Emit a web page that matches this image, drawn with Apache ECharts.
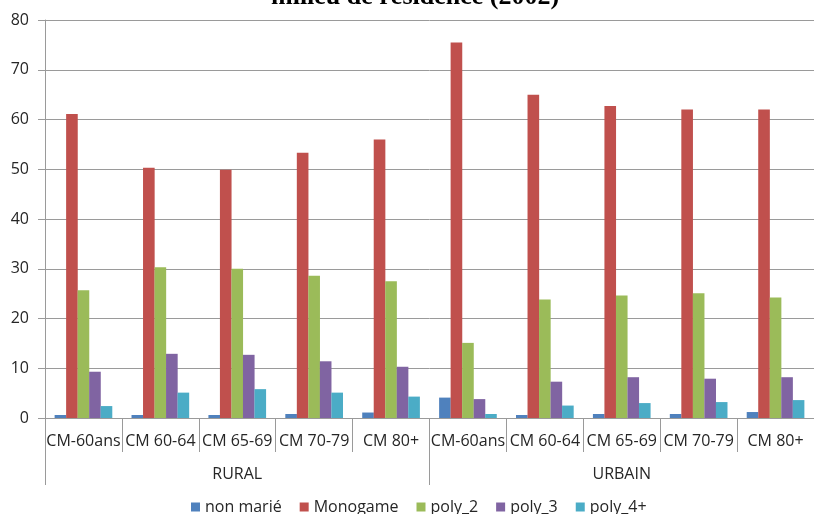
<!DOCTYPE html>
<html>
<head>
<meta charset="utf-8">
<script src="https://cdn.jsdelivr.net/npm/echarts@6/dist/echarts.min.js"></script>
<style>
  html, body { margin: 0; padding: 0; background: #fff; }
  #container { width: 814px; height: 514px; }
</style>
</head>
<body>
<div id="container"></div>
<script>
// categories (two levels)
let ageGroups = ["CM-60ans", "CM 60-64", "CM 65-69", "CM 70-79", "CM 80+",
                 "CM-60ans", "CM 60-64", "CM 65-69", "CM 70-79", "CM 80+"];
let milieux = ["RURAL", "URBAIN"];
let seriesNames = ["non marié", "Monogame", "poly_2", "poly_3", "poly_4+"];
let colors = ["#4F81BD", "#C0504D", "#9BBB59", "#8064A2", "#4BACC6"];

// values (%)
let nonMarie = [0.6, 0.6, 0.6, 0.8, 1.1, 4.1, 0.6, 0.8, 0.8, 1.2];
let monogame = [61.1, 50.3, 49.9, 53.3, 56.0, 75.5, 65.0, 62.7, 62.0, 62.0];
let poly2 = [25.7, 30.3, 30.0, 28.6, 27.5, 15.1, 23.8, 24.6, 25.1, 24.2];
let poly3 = [9.3, 12.9, 12.7, 11.4, 10.3, 3.8, 7.3, 8.2, 7.9, 8.2];
let poly4 = [2.4, 5.1, 5.8, 5.1, 4.3, 0.8, 2.5, 3.0, 3.2, 3.6];
let allValues = [nonMarie, monogame, poly2, poly3, poly4];

let yTicks = { min: 0, max: 80, interval: 10 };

let dom = document.getElementById("container");
let myChart = echarts.init(dom, null, { renderer: "canvas" });
let font = "'Open Sans', 'Noto Sans', sans-serif";
let gray = "#9a9a9a";

let option = {
  animation: false,
  title: {
    text: "milieu de résidence (2002)",
    left: 266,
    top: -21,
    textStyle: {
      fontFamily: "'Liberation Serif', 'DejaVu Serif', serif",
      fontWeight: "bold",
      fontSize: 26,
      color: "#000",
    },
  },
  legend: {
    data: seriesNames,
    left: 186,
    top: 492,
    icon: "rect",
    itemWidth: 9,
    itemHeight: 9,
    itemGap: 18,
    textStyle: { fontFamily: font, fontSize: 16, color: "#262626", lineHeight: 20 },
  },
  grid: { left: 45, right: -8, top: 20, bottom: 96, containLabel: false },
  xAxis: [
    {
      type: "category",
      data: ageGroups,
      position: "bottom",
      axisLine: { show: true, lineStyle: { color: gray, width: 1 } },
      axisTick: { show: true, interval: 0, length: 34, lineStyle: { color: gray } },
      axisLabel: { interval: 0, margin: 15, fontFamily: font, fontSize: 16, color: "#262626" },
    },
    {
      type: "category",
      data: milieux,
      position: "bottom",
      axisLine: { show: false },
      axisTick: { show: true, interval: 0, length: 67, lineStyle: { color: gray } },
      axisLabel: { interval: 0, margin: 48, fontFamily: font, fontSize: 16, color: "#262626" },
    },
  ],
  yAxis: {
    type: "value",
    min: yTicks.min,
    max: yTicks.max,
    interval: yTicks.interval,
    axisLine: { show: true, lineStyle: { color: gray } },
    axisTick: { show: true, length: 7, lineStyle: { color: gray } },
    axisLabel: { margin: 16, fontFamily: font, fontSize: 16, color: "#262626" },
    splitLine: { show: true, lineStyle: { color: gray, width: 1 } },
  },
  series: seriesNames.map(function (name, i) {
    return {
      name: name,
      type: "bar",
      xAxisIndex: 0,
      yAxisIndex: 0,
      data: allValues[i],
      barGap: "-1%",
      barCategoryGap: "25%",
      itemStyle: { color: colors[i] },
    };
  }),
};

if (option && typeof option === "object") {
  myChart.setOption(option);
}
window.addEventListener("resize", myChart.resize);
</script>
</body>
</html>
